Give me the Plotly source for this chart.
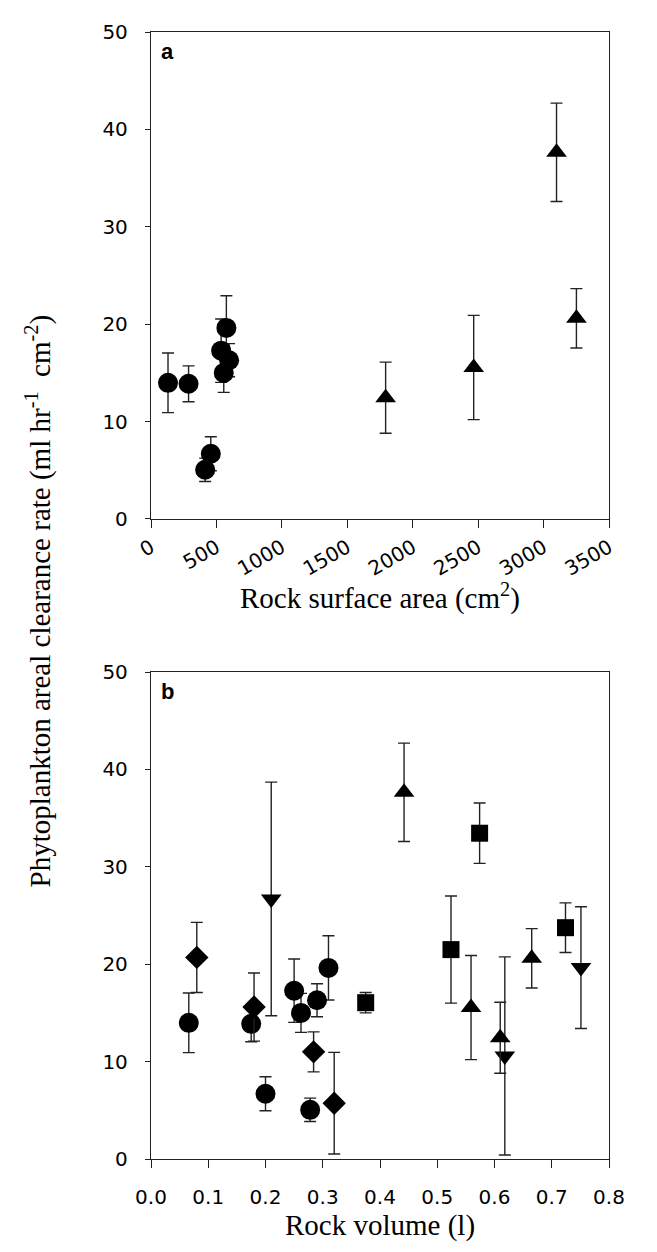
import plotly.graph_objects as go

# ---------------- data ----------------
# Panel a: rate vs rock surface area
a_circle_area = [130, 287, 414, 457, 536, 556, 576, 597]
a_circle_rate = [13.98, 13.88, 5.05, 6.70, 17.28, 15.0, 19.62, 16.3]
a_circle_err = [3.06, 1.84, 1.2, 1.75, 3.25, 2.0, 3.3, 1.7]

a_tri_area = [1793, 2466, 3099, 3251]
a_tri_rate = [12.45, 15.55, 37.65, 20.6]
a_tri_err = [3.65, 5.35, 5.05, 3.05]

# Panel b: rate vs rock volume
b_circle_vol = [0.066, 0.175, 0.278, 0.200, 0.250, 0.262, 0.310, 0.290]
b_circle_rate = a_circle_rate
b_circle_err = a_circle_err

b_tri_vol = [0.610, 0.559, 0.442, 0.665]
b_tri_rate = a_tri_rate
b_tri_err = a_tri_err

b_diamond_vol = [0.080, 0.180, 0.284, 0.320]
b_diamond_rate = [20.7, 15.6, 11.0, 5.73]
b_diamond_err = [3.6, 3.5, 2.05, 5.22]

b_square_vol = [0.375, 0.524, 0.574, 0.724]
b_square_rate = [16.05, 21.5, 33.45, 23.75]
b_square_err = [1.05, 5.5, 3.1, 2.55]

b_down_vol = [0.210, 0.618, 0.751]
b_down_rate = [26.7, 10.58, 19.65]
b_down_err = [12.0, 10.17, 6.25]

area_ticks = [0, 500, 1000, 1500, 2000, 2500, 3000, 3500]
vol_ticks = [0.0, 0.1, 0.2, 0.3, 0.4, 0.5, 0.6, 0.7, 0.8]
rate_ticks = [0, 10, 20, 30, 40, 50]

# ---------------- figure ----------------
ERR_COLOR = "#222222"
AX_COLOR = "#222222"


def series(x, y, err, symbol, size, xa, ya):
    return go.Scatter(
        x=x, y=y, mode="markers", xaxis=xa, yaxis=ya, showlegend=False,
        marker=dict(symbol=symbol, size=size, color="black", line=dict(width=0)),
        error_y=dict(type="data", array=err, visible=True, color=ERR_COLOR,
                     thickness=1.4, width=6),
    )


fig = go.Figure()
fig.add_trace(series(a_circle_area, a_circle_rate, a_circle_err, "circle", 20, "x", "y"))
fig.add_trace(series(a_tri_area, a_tri_rate, a_tri_err, "triangle-up", 18, "x", "y"))

fig.add_trace(series(b_circle_vol, b_circle_rate, b_circle_err, "circle", 20, "x2", "y2"))
fig.add_trace(series(b_diamond_vol, b_diamond_rate, b_diamond_err, "diamond", 18, "x2", "y2"))
fig.add_trace(series(b_down_vol, b_down_rate, b_down_err, "triangle-down", 18, "x2", "y2"))
fig.add_trace(series(b_square_vol, b_square_rate, b_square_err, "square", 17, "x2", "y2"))
fig.add_trace(series(b_tri_vol, b_tri_rate, b_tri_err, "triangle-up", 18, "x2", "y2"))

tick_font = dict(family="DejaVu Sans", size=20, color="black")
common_axis = dict(showline=True, linecolor=AX_COLOR, linewidth=1.3, mirror=True,
                   showgrid=False, zeroline=False, ticks="outside",
                   tickcolor=AX_COLOR, tickwidth=1.3, tickfont=tick_font)

W, H = 657, 1252
L, R, T, B = 143, 56, 17, 101
ph = H - T - B
pw = W - L - R
pa_h = 490
fig.update_layout(
    width=W, height=H,
    margin=dict(l=L, r=R, t=T, b=B),
    paper_bgcolor="white", plot_bgcolor="white",
    xaxis=dict(range=[0, 3500], tickvals=area_ticks, ticklen=8, tickangle=-30,
               anchor="y", domain=[0, 1], **common_axis),
    yaxis=dict(range=[0, 50], tickvals=rate_ticks, ticklen=5, ticklabelstandoff=13,
               anchor="x", domain=[1 - pa_h / ph, 1], **common_axis),
    xaxis2=dict(range=[0, 0.8], tickvals=vol_ticks, tickformat=".1f", ticklen=8,
                ticklabelstandoff=12, anchor="y2", domain=[0, 1], **common_axis),
    yaxis2=dict(range=[0, 50], tickvals=rate_ticks, ticklen=5, ticklabelstandoff=13,
                anchor="x2", domain=[0, pa_h / ph], **common_axis),
)

serif = "Liberation Serif, Times New Roman, serif"
fig.add_annotation(text="Phytoplankton areal clearance rate (ml hr<sup>-1</sup>  cm<sup>-2</sup>)",
                   xref="paper", yref="paper", x=-(L - 30) / pw, y=1 - (590 - T) / ph,
                   xanchor="center", yanchor="middle", textangle=-90, showarrow=False,
                   font=dict(family=serif, size=29, color="black"))
fig.add_annotation(text="Rock surface area (cm<sup>2</sup>)", xref="paper", yref="paper",
                   x=0.5, y=1 - (585 - T) / ph, xanchor="center", yanchor="middle",
                   showarrow=False, font=dict(family=serif, size=29, color="black"))
fig.add_annotation(text="Rock volume (l)", xref="paper", yref="paper",
                   x=0.5, y=1 - (1218 - T) / ph, xanchor="center", yanchor="middle",
                   showarrow=False, font=dict(family=serif, size=29, color="black"))

fig.add_annotation(text="<b>a</b>", xref="paper", yref="paper", x=8 / pw,
                   y=1 - 5 / ph, xanchor="left", yanchor="top", showarrow=False,
                   font=dict(family="Liberation Sans, Arial", size=22, color="black"))
fig.add_annotation(text="<b>b</b>", xref="paper", yref="paper", x=8 / pw,
                   y=pa_h / ph - 5 / ph, xanchor="left", yanchor="top", showarrow=False,
                   font=dict(family="Liberation Sans, Arial", size=22, color="black"))

fig.write_html("out.html")
